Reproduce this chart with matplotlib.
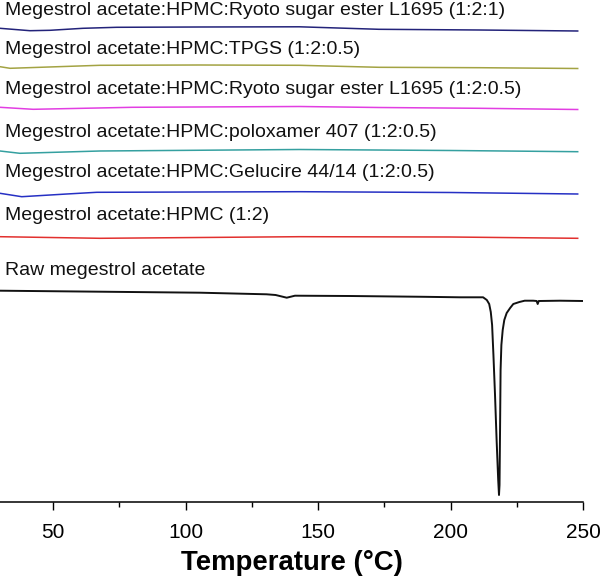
import matplotlib
matplotlib.use("Agg")
import matplotlib.pyplot as plt
from matplotlib.ticker import MultipleLocator

plt.rcParams['font.family'] = ['Liberation Sans', 'DejaVu Sans']

# Sample labels (top to bottom)
labels = [
    "Megestrol acetate:HPMC:Ryoto sugar ester L1695 (1:2:1)",
    "Megestrol acetate:HPMC:TPGS (1:2:0.5)",
    "Megestrol acetate:HPMC:Ryoto sugar ester L1695 (1:2:0.5)",
    "Megestrol acetate:HPMC:poloxamer 407 (1:2:0.5)",
    "Megestrol acetate:HPMC:Gelucire 44/14 (1:2:0.5)",
    "Megestrol acetate:HPMC (1:2)",
    "Raw megestrol acetate",
]
colors = ["#23237a", "#a3a343", "#e23ee2", "#35a0a0", "#2630c4", "#e2302e", "#111111"]

# Heat flow traces (arbitrary units, stacked) vs temperature (°C)
t1 = [30, 41.3, 48.9, 61.3, 74, 105, 143, 173, 211, 248]
h1 = [473.7, 471.3, 471.7, 473.7, 474.7, 475, 475.2, 472.7, 472, 471]
t2 = [30, 33.8, 67.7, 105, 143, 173, 211, 248]
h2 = [435.3, 433.7, 436.7, 437, 436.7, 434.7, 434.3, 433.5]
t3 = [30, 42.5, 80, 143, 173, 211, 248]
h3 = [394.7, 392.7, 394.7, 395.5, 394.5, 393.7, 392.5]
t4 = [30, 37.5, 67.7, 143, 200, 248]
h4 = [351, 348.7, 351, 352.5, 351.5, 350.3]
t5 = [30, 38.2, 55.2, 66.5, 105.5, 143, 200, 248]
h5 = [308.7, 305.3, 308, 309.7, 310, 310.3, 309.5, 308]
t6 = [30, 67.7, 143, 200, 248]
h6 = [265.3, 263.7, 265.3, 265, 263.7]
t7 = [30, 67.7, 105.5, 130.6, 134, 138.2, 141.3, 162, 190, 203.6, 212.3,
      213.7, 214.6, 215.2, 215.7, 216.2, 216.8, 217.4, 218.0, 218.3, 218.5,
      218.7, 218.9, 219.2, 219.7, 220.3, 221.2, 222.5, 223.7, 226.0, 228.0,
      231.2, 232.5, 232.9, 233.3, 241.3, 250]
h7 = [211.3, 210.3, 209.3, 207.7, 207, 204.3, 206.3, 206, 205.2, 204.7, 204.7,
      202, 198, 190, 177, 147, 107, 62, 22, 7, 17,
      72, 132, 157, 172, 182, 189, 194, 198, 200, 201.3,
      201.3, 201, 198, 201, 201.3, 201]

temps = [t1, t2, t3, t4, t5, t6, t7]
flows = [h1, h2, h3, h4, h5, h6, h7]
label_y = [487, 447.7, 407.7, 364.7, 324.7, 282, 227]

fig = plt.figure(figsize=(6.0, 5.79), dpi=100)
ax = fig.add_axes([0.0, 77 / 579, 583 / 600, 502 / 579])

for i, (t, h) in enumerate(zip(temps, flows)):
    lw = 1.4 if i == 6 else 1.1
    ax.plot(t, h, color=colors[i], lw=lw, solid_joinstyle='round')
    ax.text(31.9, label_y[i], labels[i], fontsize=14, va='baseline', ha='left',
            color='#111111')

ax.set_xlim(30, 250)
ax.set_ylim(0, 502)
for s in ['top', 'right', 'left']:
    ax.spines[s].set_visible(False)
ax.spines['bottom'].set_linewidth(1.1)
ax.set_yticks([])
ax.xaxis.set_major_locator(MultipleLocator(50))
ax.xaxis.set_minor_locator(MultipleLocator(25))
ax.tick_params(axis='x', which='major', direction='out', length=6, width=1.0,
               labelsize=15, pad=9)
ax.tick_params(axis='x', which='minor', direction='out', length=3.6, width=1.0)
ax.set_xlabel("Temperature (°C)", fontsize=19.8, fontweight='bold', labelpad=6)

fig.savefig("out.png", dpi=100)
